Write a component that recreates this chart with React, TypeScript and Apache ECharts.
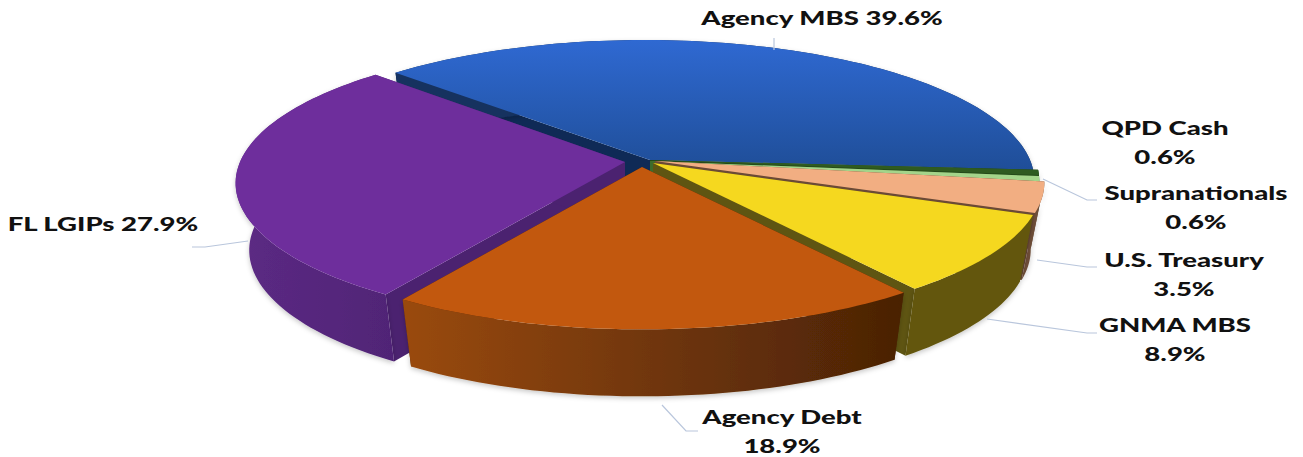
import React, { useEffect, useRef } from "react";
import * as echarts from "echarts";

const categories = ["QPD Cash", "Supranationals", "U.S. Treasury", "GNMA MBS", "Agency Debt", "FL LGIPs", "Agency MBS"];
const values = [0.6, 0.6, 3.5, 8.9, 18.9, 27.9, 39.6];
const labelBreak = [true, true, true, true, true, false, false];

// Layout (per slice, same order as categories)
const apexX = [650, 650, 655, 653, 642, 625, 650];
const apexY = [160, 161, 161, 163, 167, 162, 160];
const arcDx = [0, 0, 0, 0, 0, 0, -5];
const drawOrder = [1, 2, 3, 4, 6, 5, 0];
const labelX = [1165, 1196, 1184, 1175, 782, 103, 822];
const labelY = [142, 207, 274, 339, 431, 224, 18];
const leaders: number[][][] = [
  [],
  [[1043, 179], [1087, 200], [1097, 200]],
  [[1037, 260], [1087, 267], [1097, 267]],
  [[987, 319], [1087, 333], [1097, 333]],
  [[662, 405], [686, 431], [698, 431]],
  [[248, 241], [205, 247], [192, 247]],
  [[774, 50], [774, 38]],
];
const topColors: any[] = [
  "#2f5b20", "#a4d48a", "#f2ae82", "#f5d81f", "#c2580e", "#6e2e9c",
  new echarts.graphic.LinearGradient(0, 0, 0, 1, [
    { offset: 0, color: "#2f69d2" },
    { offset: 1, color: "#1f4e98" },
  ]),
];
const wallColors: any[] = [
  "#254a1a", "#3d6b2c", "#6e4e38", "#635711",
  new echarts.graphic.LinearGradient(0, 0, 1, 0, [
    { offset: 0, color: "#9a4a0e" },
    { offset: 0.5, color: "#70360a" },
    { offset: 1, color: "#4a2205" },
  ]),
  new echarts.graphic.LinearGradient(0, 0, 1, 0, [
    { offset: 0, color: "#5c2a84" },
    { offset: 1, color: "#502476" },
  ]),
  "#14305e",
];
const cutColors = ["#254a1a", "#3d6b2c", "#6b4a36", "#5f5512", "#4a2205", "#4b2270", "#0f2a56"];

const RADIUS = 385;
const K = 138;
const PERSPECTIVE = 0.15;
const DEPTH = 67;
const BOTTOM_SCALE = 0.965;
const START_DEG = 4;
const VIEW_SKEW = 3; // viewpoint correction of the projected angle, degrees
const VIEW_AXIS = 15;
const LABEL_STRETCH = 1.45;

const total = values.reduce((a, b) => a + b, 0);

function project(deg: number) {
  const warped = deg + (VIEW_SKEW * (1 - Math.cos(((deg - VIEW_AXIS) * Math.PI) / 180))) / 2;
  const t = (warped * Math.PI) / 180;
  const den = 1 - PERSPECTIVE * Math.sin(t);
  return [(RADIUS * Math.cos(t)) / den, (K * Math.sin(t)) / den];
}

function renderItem(params: any) {
  const i = params.dataIndex;
  const before = values.slice(0, i).reduce((a, b) => a + b, 0);
  const a0 = START_DEG + (before / total) * 360;
  const a1 = a0 + (values[i] / total) * 360;
  const ax = apexX[i];
  const ay = apexY[i];
  const dx = arcDx[i];
  const top = (p: number[]) => [ax + dx + p[0], ay + p[1]];
  const low = (p: number[]) => [ax + dx + p[0] * BOTTOM_SCALE, ay + p[1] + DEPTH];

  const arc: number[][] = [];
  const steps = Math.max(2, Math.ceil((a1 - a0) / 1.5));
  for (let s = 0; s <= steps; s++) arc.push(project(a0 + ((a1 - a0) * s) / steps));

  const topPts = [[ax, ay], ...arc.map(top)];
  const wallPts = [...arc.map(top), ...arc.slice().reverse().map(low)];
  const first = arc[0];
  const last = arc[arc.length - 1];
  const cut0 = [[ax, ay], top(first), low(first), [ax, ay + DEPTH]];
  const cut1 = [[ax, ay], top(last), low(last), [ax, ay + DEPTH]];
  const z = drawOrder[i] * 10;

  const children: any[] = [
    { type: "polygon", z2: z + 1, shape: { points: cut0 }, style: { fill: cutColors[i] } },
    { type: "polygon", z2: z + 1, shape: { points: cut1 }, style: { fill: cutColors[i] } },
    {
      type: "polygon",
      z2: z + 2,
      shape: { points: wallPts },
      style: { fill: wallColors[i], shadowBlur: 5, shadowColor: "rgba(0,0,0,0.22)", shadowOffsetY: 2 },
    },
    { type: "polygon", z2: z + 3, shape: { points: topPts }, style: { fill: topColors[i] } },
    {
      type: "text",
      z2: 200,
      x: labelX[i],
      y: labelY[i],
      scaleX: LABEL_STRETCH,
      style: {
        text: `${categories[i]}${labelBreak[i] ? "\n" : " "}${values[i].toFixed(1)}%`,
        x: 0,
        y: 0,
        align: "center",
        verticalAlign: "middle",
        fontFamily: "Lato",
        fontWeight: 900,
        fontSize: 19,
        lineHeight: 29,
        fill: "#111111",
      },
    },
  ];
  if (leaders[i].length) {
    children.push({
      type: "polyline",
      z2: 100,
      shape: { points: leaders[i] },
      style: { stroke: "#b9c6dc", lineWidth: 1.2, fill: "none" },
    });
  }
  return { type: "group", children };
}

export default function App() {
  const ref = useRef<HTMLDivElement>(null);
  useEffect(() => {
    const chart = echarts.init(ref.current!, undefined, { renderer: "svg" });
    chart.setOption({
      animation: false,
      backgroundColor: "#ffffff",
      series: [
        {
          type: "custom",
          coordinateSystem: "none",
          silent: true,
          renderItem,
          data: values.map((v, i) => ({ name: categories[i], value: v })),
        },
      ],
    });
    return () => chart.dispose();
  }, []);
  return <div ref={ref} style={{ position: "absolute", left: 0, top: 0, width: 1303, height: 457 }} />;
}
